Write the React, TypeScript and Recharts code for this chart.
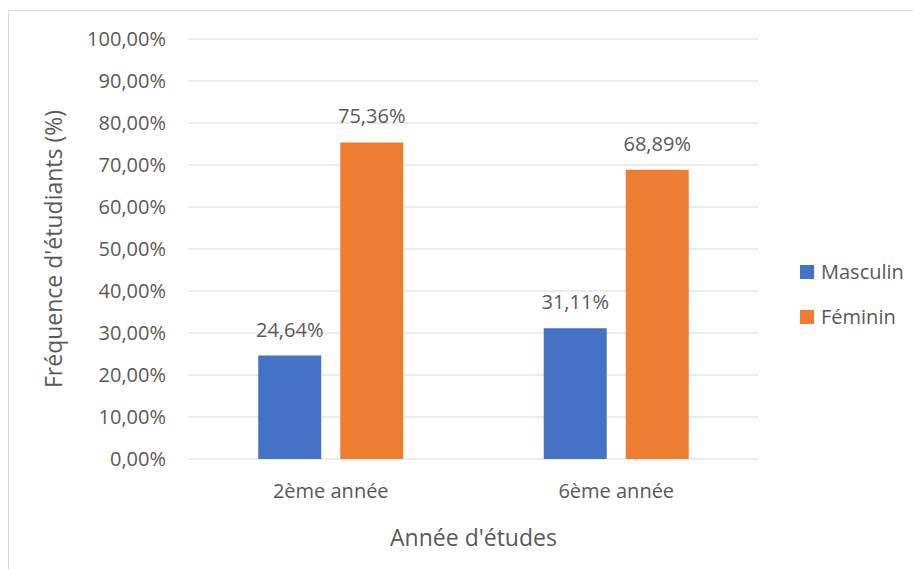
import { BarChart, Bar, XAxis, YAxis, CartesianGrid, Legend, LabelList } from 'recharts';

const years = ['2ème année', '6ème année'];
const masculin = [24.64, 31.11];
const feminin = [75.36, 68.89];
const yTicks = [0, 10, 20, 30, 40, 50, 60, 70, 80, 90, 100];

const BLUE = '#4472C4';
const ORANGE = '#ED7D31';
const TEXT = '#595959';
const FONT = '"Open Sans", sans-serif';

const data = years.map((year, i) => ({
  year,
  Masculin: masculin[i],
  'Féminin': feminin[i],
}));

const pct = (v: number) => `${v.toFixed(2).replace('.', ',')}%`;

function LegendBox() {
  const items = [
    { name: 'Masculin', color: BLUE },
    { name: 'Féminin', color: ORANGE },
  ];
  return (
    <div style={{ fontFamily: FONT }}>
      {items.map((it) => (
        <div key={it.name} style={{ display: 'flex', alignItems: 'center', height: 45 }}>
          <span style={{ width: 14, height: 14, background: it.color, marginRight: 7, display: 'inline-block' }} />
          <span style={{ fontSize: 20, color: TEXT }}>{it.name}</span>
        </div>
      ))}
    </div>
  );
}

export default function App() {
  return (
    <div
      style={{
        width: 912,
        height: 559,
        marginTop: 2,
        border: '1px solid #D9D9D9',
        borderRight: 'none',
        borderBottom: 'none',
        boxSizing: 'border-box',
        position: 'relative',
      }}
    >
      <BarChart
        width={912}
        height={559}
        data={data}
        margin={{ top: 29, right: 161, left: 0, bottom: 50 }}
        barCategoryGap="24.6%"
        barGap={19}
        style={{ position: 'absolute', left: -1, top: -1 }}
      >
        <CartesianGrid vertical={false} stroke="#D9D9D9" strokeWidth={1.2} />
        <XAxis
          dataKey="year"
          height={60}
          axisLine={false}
          tickLine={false}
          tick={{ fill: TEXT, fontSize: 20, fontFamily: FONT }}
          dy={17}
          label={{ value: "Année d'études", position: 'insideBottom', offset: -27, fill: TEXT, fontSize: 23, fontFamily: FONT }}
        />
        <YAxis
          width={180}
          domain={[0, 100]}
          ticks={yTicks}
          interval={0}
          axisLine={false}
          tickLine={false}
          tickFormatter={pct}
          tick={{ fill: TEXT, fontSize: 20, fontFamily: FONT }}
          dx={-14}
          label={{
            value: "Fréquence d'étudiants (%)",
            angle: -90,
            position: 'insideLeft',
            offset: 46,
            style: { textAnchor: 'middle', fill: TEXT, fontSize: 23, fontFamily: FONT },
          }}
        />
        <Legend
          layout="vertical"
          align="center"
          verticalAlign="middle"
          wrapperStyle={{ left: 792, top: 239, width: 120 }}
          content={() => <LegendBox />}
        />
        <Bar dataKey="Masculin" fill={BLUE} isAnimationActive={false}>
          <LabelList dataKey="Masculin" position="top" offset={19} formatter={pct} fill={TEXT} fontSize={20} fontFamily={FONT} />
        </Bar>
        <Bar dataKey="Féminin" fill={ORANGE} isAnimationActive={false}>
          <LabelList dataKey="Féminin" position="top" offset={19} formatter={pct} fill={TEXT} fontSize={20} fontFamily={FONT} />
        </Bar>
      </BarChart>
    </div>
  );
}
